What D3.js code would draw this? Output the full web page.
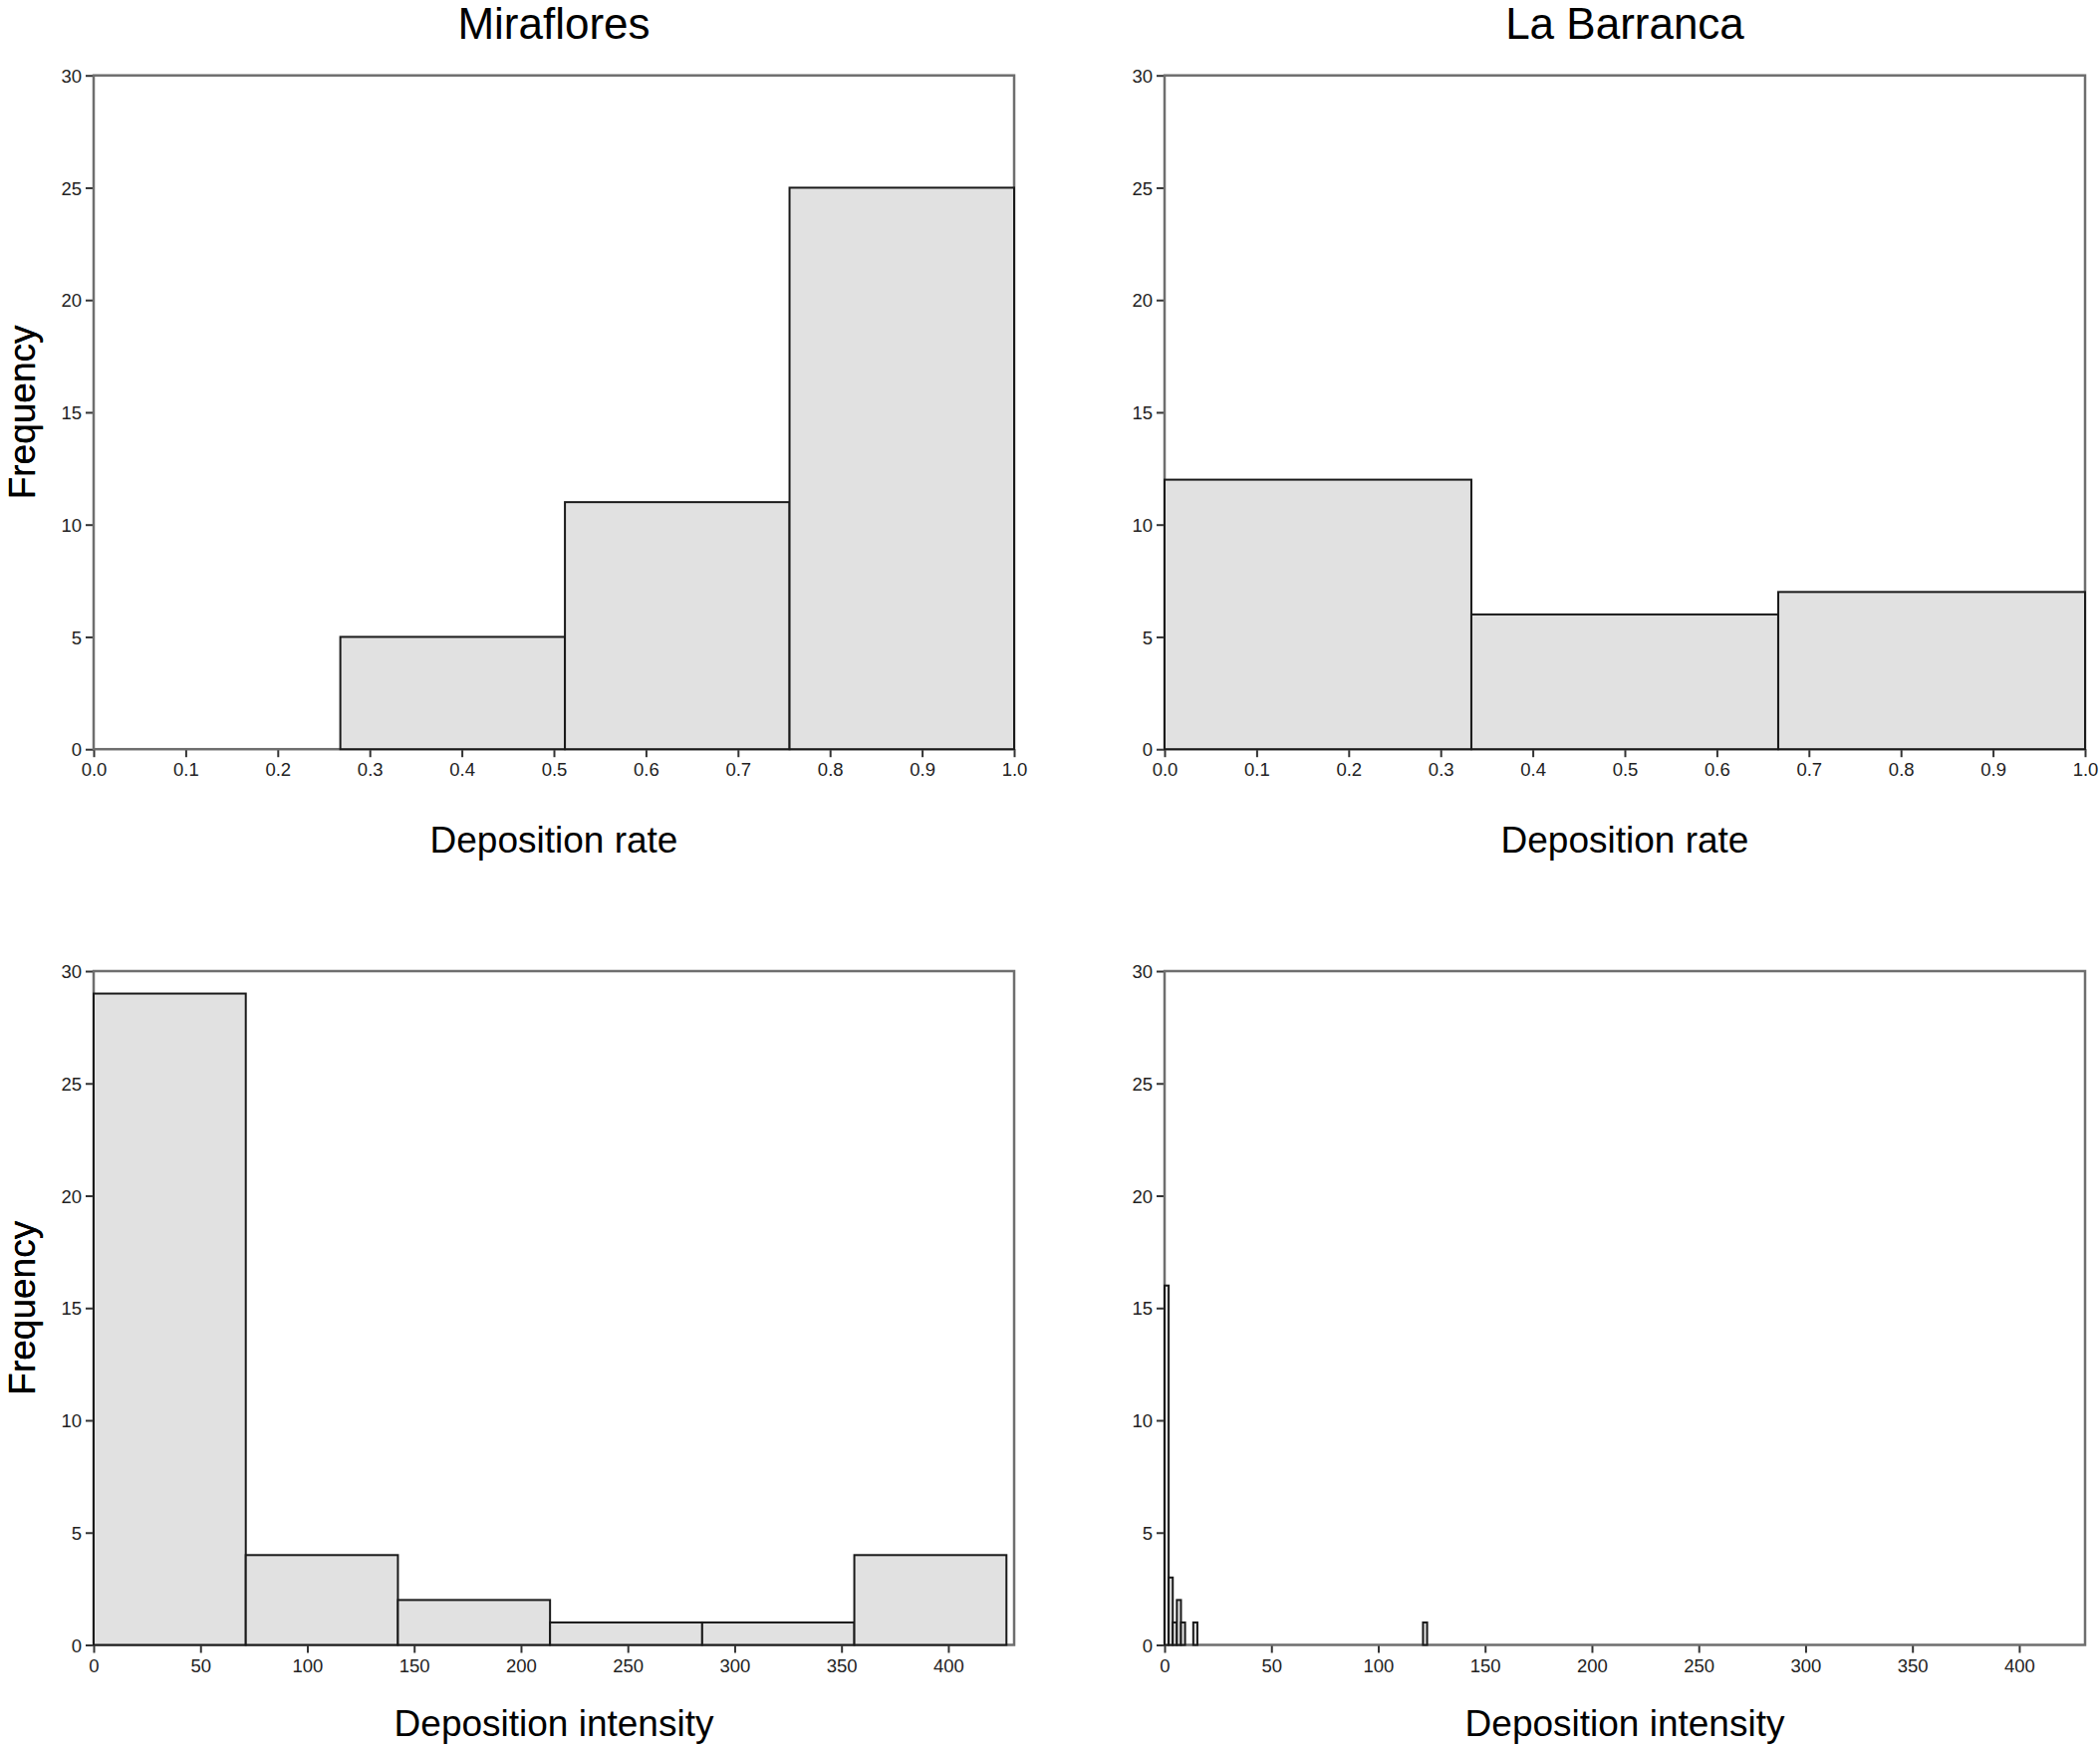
<!DOCTYPE html>
<html>
<head>
<meta charset="utf-8">
<script src="https://cdn.jsdelivr.net/npm/d3@7"></script>
<style>
  body { margin: 0; background: #fff; }
  svg { display: block; font-family: "Liberation Sans", Arial, sans-serif; }
  .ejes .domain { display: none; }
  .ejes line { stroke: #333; stroke-width: 2; }
  .ejes text { font-size: 18.5px; fill: #222; font-family: "Liberation Sans", Arial, sans-serif; }
</style>
</head>
<body>
<div id="graf"></div>
<script>
// histogram bins: bin starts, counts, common bin width
const mirRateStarts = [0.268, 0.512, 0.756]
const mirRateCounts = [5, 11, 25]
const mirRateWidth = 0.244

const barRateStarts = [0, 0.3333, 0.6667]
const barRateCounts = [12, 6, 7]
const barRateWidth = 0.3333

const mirIntStarts = [0, 71.2, 142.4, 213.6, 284.8, 356]
const mirIntCounts = [29, 4, 2, 1, 1, 4]
const mirIntWidth = 71.2

const barIntStarts = [0, 1.92, 3.84, 5.76, 7.68, 13.44, 120.96]
const barIntCounts = [16, 3, 1, 2, 1, 1, 1]
const barIntWidth = 1.92

const freqTicks = [0, 5, 10, 15, 20, 25, 30]
const rateTicks = [0, 0.1, 0.2, 0.3, 0.4, 0.5, 0.6, 0.7, 0.8, 0.9, 1.0]
const intTicks = [0, 50, 100, 150, 200, 250, 300, 350, 400]

const titles = ['Miraflores', 'La Barranca']
const xLabels = ['Deposition rate', 'Deposition intensity']

const anchoTotal = 2108
const altoTotal = 1754
const ancho = 924
const alto = 676.5

const svg = d3.select('#graf')
  .append('svg')
  .attr('width', anchoTotal)
  .attr('height', altoTotal)

const panels = [
  { left: 94, top: 75.7, starts: mirRateStarts, counts: mirRateCounts, w: mirRateWidth,
    dom: [0, 1], ticks: rateTicks, fmt: d3.format('.1f'), xl: xLabels[0], xlOff: 104, title: titles[0] },
  { left: 1169, top: 75.7, starts: barRateStarts, counts: barRateCounts, w: barRateWidth,
    dom: [0, 1], ticks: rateTicks, fmt: d3.format('.1f'), xl: xLabels[0], xlOff: 104, title: titles[1] },
  { left: 94, top: 975, starts: mirIntStarts, counts: mirIntCounts, w: mirIntWidth,
    dom: [0, 430.8], ticks: intTicks, fmt: d3.format('d'), xl: xLabels[1], xlOff: 91 },
  { left: 1169, top: 975, starts: barIntStarts, counts: barIntCounts, w: barIntWidth,
    dom: [0, 430.8], ticks: intTicks, fmt: d3.format('d'), xl: xLabels[1], xlOff: 91 },
]

panels.forEach(p => {
  const g = svg.append('g')
    .attr('transform', `translate(${p.left}, ${p.top})`)

  const x = d3.scaleLinear().domain(p.dom).range([0, ancho])
  const y = d3.scaleLinear().domain([0, 30]).range([alto, 0])

  // ticks
  g.append('g')
    .attr('class', 'ejes')
    .attr('transform', `translate(0, ${alto})`)
    .call(d3.axisBottom(x).tickValues(p.ticks).tickFormat(p.fmt).tickSize(8).tickPadding(6))

  g.append('g')
    .attr('class', 'ejes')
    .call(d3.axisLeft(y).tickValues(freqTicks).tickSize(8).tickPadding(4))
    .selectAll('text')
    .attr('dy', '0.36em')

  // frame
  g.append('rect')
    .attr('x', 0)
    .attr('y', 0)
    .attr('width', ancho)
    .attr('height', alto)
    .attr('fill', 'none')
    .attr('stroke', '#6e6e6e')
    .attr('stroke-width', 2.5)

  const data = p.starts.map((s, i) => ({ x0: s, x1: s + p.w, n: p.counts[i] }))

  g.selectAll('rect.bar')
    .data(data)
    .enter()
    .append('rect')
    .attr('class', 'bar')
    .attr('x', d => x(d.x0))
    .attr('y', d => y(d.n))
    .attr('width', d => x(d.x1) - x(d.x0))
    .attr('height', d => alto - y(d.n))
    .attr('fill', '#e1e1e1')
    .attr('stroke', '#1a1a1a')
    .attr('stroke-width', 2)

  g.append('text')
    .attr('x', ancho / 2)
    .attr('y', alto + p.xlOff)
    .attr('text-anchor', 'middle')
    .attr('font-size', 37)
    .attr('fill', '#000')
    .text(p.xl)

  g.append('text')
    .attr('transform', `translate(${35 - p.left}, ${alto / 2}) rotate(-90)`)
    .attr('text-anchor', 'middle')
    .attr('font-size', 37)
    .attr('fill', '#000')
    .text('Frequency')

  if (p.title) {
    g.append('text')
      .attr('x', ancho / 2)
      .attr('y', 39 - p.top)
      .attr('text-anchor', 'middle')
      .attr('font-size', 44)
      .attr('fill', '#000')
      .text(p.title)
  }
})
</script>
</body>
</html>
